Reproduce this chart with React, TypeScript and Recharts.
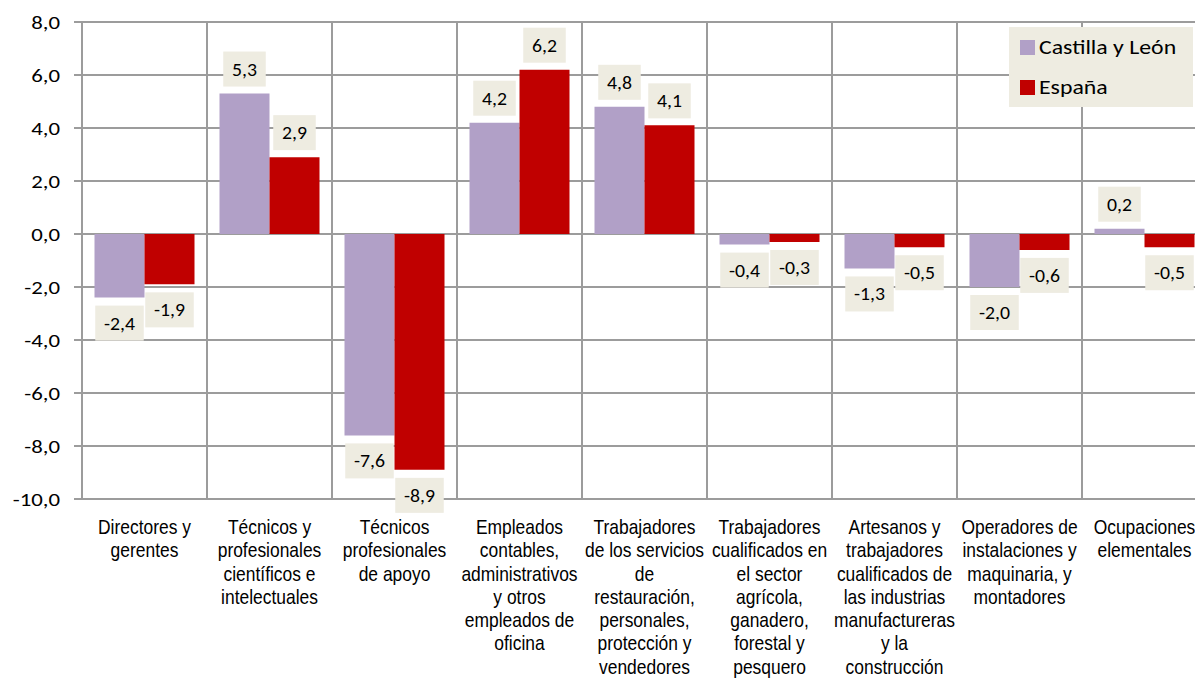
import React from 'react';
import { BarChart, Bar, XAxis, YAxis, CartesianGrid, LabelList, Legend } from 'recharts';

const categoryLines: string[][] = [
  ['Directores y', 'gerentes'],
  ['Técnicos y', 'profesionales', 'científicos e', 'intelectuales'],
  ['Técnicos', 'profesionales', 'de apoyo'],
  ['Empleados', 'contables,', 'administrativos', 'y otros', 'empleados de', 'oficina'],
  ['Trabajadores', 'de los servicios', 'de', 'restauración,', 'personales,', 'protección y', 'vendedores'],
  ['Trabajadores', 'cualificados en', 'el sector', 'agrícola,', 'ganadero,', 'forestal y', 'pesquero'],
  ['Artesanos y', 'trabajadores', 'cualificados de', 'las industrias', 'manufactureras', 'y la', 'construcción'],
  ['Operadores de', 'instalaciones y', 'maquinaria, y', 'montadores'],
  ['Ocupaciones', 'elementales'],
];
const categories = categoryLines.map((l) => l.join(' '));
const castillaLeon = [-2.4, 5.3, -7.6, 4.2, 4.8, -0.4, -1.3, -2.0, 0.2];
const espana = [-1.9, 2.9, -8.9, 6.2, 4.1, -0.3, -0.5, -0.6, -0.5];
const yTicks = [-10, -8, -6, -4, -2, 0, 2, 4, 6, 8];
const seriesNames = ['Castilla y León', 'España'];
const seriesColors = ['#B1A0C7', '#C00000'];

const data = categories.map((name, i) => ({
  name,
  cyl: castillaLeon[i],
  esp: espana[i],
}));

const fmt = (v: number) => v.toFixed(1).replace('.', ',');
const LABEL_FONT = 'Carlito, Calibri, Lato, sans-serif';
const GRID = '#9C9C9C';

const textWidth = (t: string) => {
  let w = 0;
  for (const ch of t) {
    if (ch === '-') w += 6;
    else if (ch === ',') w += 4.5;
    else w += 10;
  }
  return w + 18;
};

const ValueLabel = (props: any) => {
  const vb = props.viewBox || {};
  const x = props.x ?? vb.x;
  const y = props.y ?? vb.y;
  const width = props.width ?? vb.width;
  const height = props.height ?? vb.height;
  const value = Number(props.value);
  const top = Math.min(y, y + height);
  const bottom = Math.max(y, y + height);
  const text = fmt(value);
  const w = textWidth(text);
  const h = 35;
  const cx = x + width / 2;
  const by = value >= 0 ? top - 7 - h : bottom + 8;
  return (
    <g>
      <rect x={cx - w / 2} y={by} width={w} height={h} fill="#EEECE1" />
      <text
        transform={`translate(${cx},${by + h / 2 + 6.5}) scale(1.13,1)`}
        textAnchor="middle"
        fontSize={17.5}
        fontFamily={LABEL_FONT}
        fill="#000"
      >
        {text}
      </text>
    </g>
  );
};

const YTick = (props: any) => {
  const { x, y, payload } = props;
  return (
    <text
      transform={`translate(${x},${y + 7}) scale(1.2,1)`}
      textAnchor="end"
      fontSize={19}
      fontFamily={LABEL_FONT}
      fill="#000"
    >
      {fmt(Number(payload.value))}
    </text>
  );
};

const CategoryTick = (props: any) => {
  const { x, y, payload } = props;
  const idx = categories.indexOf(payload.value);
  const lines = idx >= 0 ? categoryLines[idx] : [String(payload.value)];
  return (
    <g transform={`translate(${x},${y + 35}) scale(0.85,1)`}>
      <text
        x={0}
        y={0}
        textAnchor="middle"
        fontSize={20.5}
        fontFamily="'Liberation Sans', Arial, sans-serif"
        fill="#000"
      >
        {lines.map((l, i) => (
          <tspan key={i} x={0} dy={i === 0 ? 0 : 23.3}>
            {l}
          </tspan>
        ))}
      </text>
    </g>
  );
};

const LegendContent = () => (
  <div
    style={{
      position: 'absolute',
      left: 1009,
      top: 27,
      width: 184,
      height: 80,
      background: '#EEECE1',
      fontFamily: LABEL_FONT,
      fontSize: 20,
      color: '#000',
    }}
  >
    {seriesNames.map((n, i) => (
      <div
        key={n}
        style={{
          position: 'absolute',
          left: 11,
          top: i === 0 ? 6 : 46,
          height: 28,
          display: 'flex',
          alignItems: 'center',
          whiteSpace: 'nowrap',
        }}
      >
        <span
          style={{
            display: 'inline-block',
            width: 15,
            height: 15,
            background: seriesColors[i],
            marginRight: 4,
          }}
        />
        <span
          style={{
            display: 'inline-block',
            transform: 'scale(1.19,1)',
            transformOrigin: 'left center',
          }}
        >
          {n}
        </span>
      </div>
    ))}
  </div>
);

export default function App() {
  const n = categories.length;
  return (
    <div
      style={{
        position: 'absolute',
        left: 0,
        top: 0,
        width: 1195,
        height: 681,
        overflow: 'hidden',
        background: '#fff',
      }}
    >
      <BarChart
        width={1207}
        height={681}
        data={data}
        margin={{ top: 22, right: 0, left: 0, bottom: 0 }}
        barCategoryGap="10%"
        barGap={0}
      >
        <CartesianGrid
          stroke={GRID}
          strokeWidth={2}
          verticalCoordinatesGenerator={({ offset }: any) =>
            Array.from({ length: n + 1 }, (_, i) => offset.left + (i * offset.width) / n)
          }
        />
        <XAxis
          dataKey="name"
          height={182}
          tickLine={false}
          tickSize={0}
          tickMargin={0}
          axisLine={{ stroke: GRID, strokeWidth: 2 }}
          tick={<CategoryTick />}
          interval={0}
        />
        <YAxis
          width={82}
          domain={[-10, 8]}
          ticks={yTicks}
          allowDataOverflow
          tickSize={8}
          tickMargin={14}
          tickLine={{ stroke: GRID, strokeWidth: 2 }}
          axisLine={{ stroke: GRID, strokeWidth: 2 }}
          tick={<YTick />}
        />
        <Legend
          verticalAlign="top"
          wrapperStyle={{ top: 0, left: 0, width: 0, height: 0 }}
          content={<LegendContent />}
        />
        <Bar dataKey="cyl" name={seriesNames[0]} fill={seriesColors[0]} isAnimationActive={false}>
          <LabelList dataKey="cyl" content={<ValueLabel />} />
        </Bar>
        <Bar dataKey="esp" name={seriesNames[1]} fill={seriesColors[1]} isAnimationActive={false}>
          <LabelList dataKey="esp" content={<ValueLabel />} />
        </Bar>
      </BarChart>
    </div>
  );
}
